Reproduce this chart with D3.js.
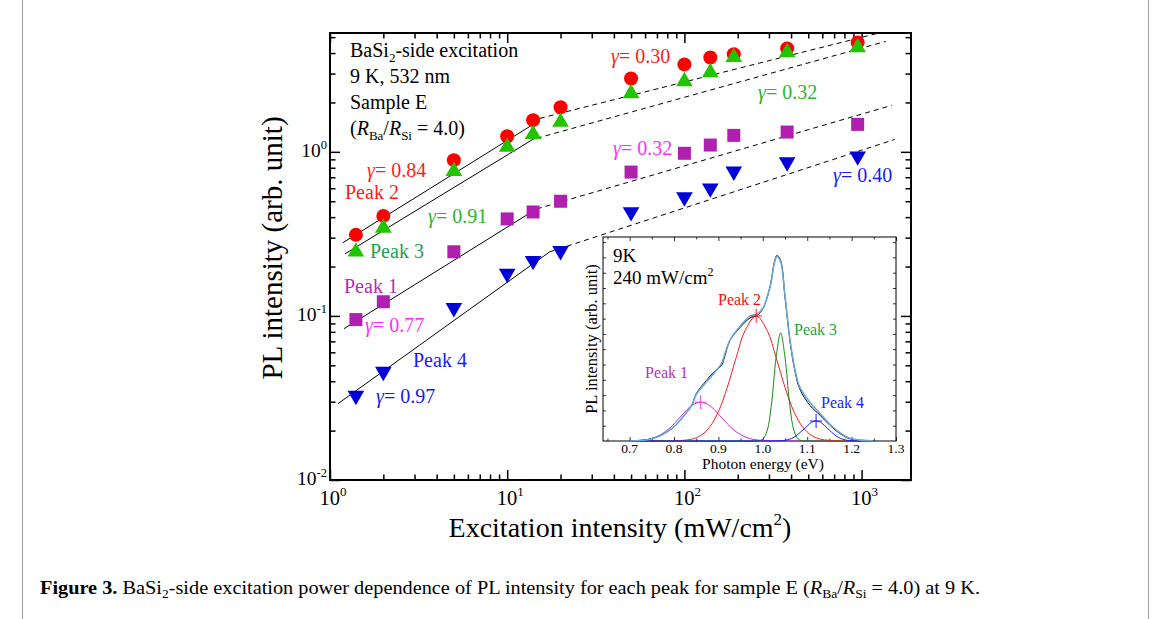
<!DOCTYPE html>
<html>
<head>
<meta charset="utf-8">
<script src="https://cdn.jsdelivr.net/npm/d3@7"></script>
<style>
body { margin: 0; background: #fff; }
svg { display: block; }
</style>
</head>
<body>
<svg id="fig" width="1170" height="619"></svg>
<script>
// excitation intensities (mW/cm2) and PL intensity of each peak (arb. unit)
var excitation = [1.4, 2, 5, 10, 14, 20, 50, 100, 140, 190, 380, 950];
var peak1 = [0.095, 0.122, 0.246, 0.39, 0.43, 0.50, 0.753, 0.98, 1.10, 1.26, 1.32, 1.47];
var peak2 = [0.312, 0.407, 0.89, 1.245, 1.56, 1.87, 2.80, 3.41, 3.76, 3.93, 4.27, 4.64];
var peak3 = [0.246, 0.344, 0.763, 1.07, 1.28, 1.52, 2.27, 2.69, 3.05, 3.77, 4.04, 4.33];
var peak4 = [0.0327, 0.0458, 0.112, 0.181, 0.217, 0.249, 0.43, 0.53, 0.60, 0.76, 0.865, 0.94];

// power-law fits: low intensity (solid) and high intensity (dashed), end points in data units
var fitSolid = [
	{peak: 2, x: [1.18, 15.3], y: [0.279, 1.56]},
	{peak: 3, x: [1.215, 14.3], y: [0.239, 1.21]},
	{peak: 1, x: [1.2, 14.3], y: [0.0836, 0.442]},
	{peak: 4, x: [1.11, 17.4], y: [0.0292, 0.246]}
];
var fitDashed = [
	{peak: 2, x: [15.3, 1210], y: [1.60, 5.25]},
	{peak: 3, x: [14.7, 1368], y: [1.21, 4.71]},
	{peak: 1, x: [14.7, 1479], y: [0.449, 1.92]},
	{peak: 4, x: [17.4, 1537], y: [0.246, 1.19]}
];

var xMajor = [1, 10, 100, 1000];
var yMajor = [0.01, 0.1, 1];

// inset: PL spectrum at 240 mW/cm2
var energy = [0.70, 0.74, 0.77, 0.80, 0.82, 0.84, 0.85, 0.873, 0.89, 0.907, 0.915, 0.926, 0.948, 0.971, 0.986, 1.00, 1.016, 1.027, 1.032, 1.04, 1.05, 1.061, 1.072, 1.083, 1.106, 1.129, 1.151, 1.174, 1.196, 1.226, 1.25];
var spectrum = [0, 0.007, 0.028, 0.069, 0.118, 0.175, 0.232, 0.297, 0.338, 0.371, 0.42, 0.493, 0.554, 0.603, 0.614, 0.648, 0.755, 0.886, 0.91, 0.886, 0.706, 0.493, 0.346, 0.256, 0.175, 0.126, 0.077, 0.036, 0.011, 0.003, 0];
var fitSum = [0, 0.006, 0.027, 0.07, 0.118, 0.176, 0.228, 0.29, 0.332, 0.38, 0.43, 0.495, 0.56, 0.612, 0.622, 0.65, 0.752, 0.88, 0.905, 0.88, 0.71, 0.5, 0.355, 0.265, 0.19, 0.135, 0.082, 0.04, 0.013, 0.003, 0];

var comp1E = [0.70, 0.74, 0.76, 0.78, 0.80, 0.82, 0.84, 0.86, 0.88, 0.90, 0.92, 0.94, 0.96, 0.98, 1.00, 1.02, 1.25];
var comp1 = [0.001, 0.007, 0.02, 0.045, 0.084, 0.132, 0.174, 0.19, 0.174, 0.132, 0.084, 0.045, 0.02, 0.007, 0.003, 0.001, 0];
var comp2E = [0.70, 0.80, 0.84, 0.86, 0.88, 0.90, 0.92, 0.94, 0.96, 0.985, 1.01, 1.03, 1.05, 1.07, 1.09, 1.11, 1.13, 1.17, 1.25];
var comp2 = [0, 0.001, 0.009, 0.027, 0.068, 0.144, 0.263, 0.409, 0.541, 0.613, 0.541, 0.409, 0.263, 0.144, 0.068, 0.027, 0.009, 0.001, 0];
var comp3E = [0.70, 0.98, 0.99, 1.00, 1.01, 1.02, 1.03, 1.04, 1.05, 1.06, 1.07, 1.08, 1.09, 1.10, 1.25];
var comp3 = [0, 0, 0.001, 0.009, 0.053, 0.19, 0.41, 0.53, 0.41, 0.19, 0.053, 0.009, 0.001, 0, 0];
var comp4E = [0.70, 1.00, 1.03, 1.05, 1.07, 1.09, 1.11, 1.12, 1.13, 1.15, 1.17, 1.19, 1.21, 1.25];
var comp4 = [0, 0, 0.0004, 0.0034, 0.018, 0.053, 0.092, 0.098, 0.092, 0.053, 0.018, 0.0034, 0.0004, 0];
var insetTicks = [0.7, 0.8, 0.9, 1.0, 1.1, 1.2, 1.3];

var serif = '"Liberation Serif", "Times New Roman", serif';
var colors = {1: '#b01fb0', 2: '#ff0000', 3: '#22c400', 4: '#0000d8'};

var svg = d3.select('#fig').style('font-family', serif);

// page frame
svg.append('rect')
	.attr('x', 22.5).attr('y', -2).attr('width', 1126).attr('height', 625)
	.attr('fill', 'none').attr('stroke', '#a0a0a0');

var plot = {left: 330, right: 911, top: 33, bottom: 480};
var x = d3.scaleLog().domain([1, 1900]).range([plot.left, plot.right]);
var y = d3.scaleLog().domain([0.01, 5.3]).range([plot.bottom, plot.top]);

var minor = function(decades, max) {
	var out = [];
	decades.forEach(function(d) {
		for (var k = 2; k < 10; k++) if (k * d < max) out.push(k * d);
	});
	return out;
};
var xMinor = minor(xMajor, 1900);
var yMinor = minor(yMajor, 5.3);

var axes = svg.append('g');
var addAxis = function(axis, tx, ty, size, values) {
	var g = axes.append('g')
		.attr('transform', 'translate(' + tx + ',' + ty + ')')
		.call(axis.tickValues(values).tickSize(size).tickFormat(''));
	g.select('.domain').remove();
	g.selectAll('line').attr('stroke', '#000').attr('stroke-width', 1.5);
};
addAxis(d3.axisBottom(x), 0, plot.bottom, -10, xMajor);
addAxis(d3.axisBottom(x), 0, plot.bottom, -5.5, xMinor);
addAxis(d3.axisTop(x), 0, plot.top, -10, xMajor);
addAxis(d3.axisTop(x), 0, plot.top, -5.5, xMinor);
addAxis(d3.axisLeft(y), plot.left, 0, -10, yMajor);
addAxis(d3.axisLeft(y), plot.left, 0, -5.5, yMinor);
addAxis(d3.axisRight(y), plot.right, 0, -10, yMajor);
addAxis(d3.axisRight(y), plot.right, 0, -5.5, yMinor);

svg.append('rect')
	.attr('x', plot.left).attr('y', plot.top)
	.attr('width', plot.right - plot.left).attr('height', plot.bottom - plot.top)
	.attr('fill', 'none').attr('stroke', '#000').attr('stroke-width', 2);

// tick labels 10^n
xMajor.forEach(function(v) {
	var t = svg.append('text').attr('x', x(v) - 10.5).attr('y', 505).style('font-size', '20.5px');
	t.append('tspan').text('10');
	t.append('tspan').attr('dy', -9).style('font-size', '13px').text(Math.round(Math.log10(v)));
});
yMajor.forEach(function(v) {
	var t = svg.append('text').attr('x', 327).attr('y', y(v) + 5).attr('text-anchor', 'end').style('font-size', '19.5px');
	t.append('tspan').text('10');
	t.append('tspan').attr('dy', -8).style('font-size', '12.5px').text(Math.round(Math.log10(v)));
});

// axis titles
svg.append('text')
	.attr('transform', 'translate(282,248) rotate(-90)')
	.attr('text-anchor', 'middle').style('font-size', '29px')
	.text('PL intensity (arb. unit)');
var xt = svg.append('text').attr('x', 620).attr('y', 537).attr('text-anchor', 'middle').style('font-size', '28px');
xt.append('tspan').text('Excitation intensity (mW/cm');
xt.append('tspan').attr('dy', -12).style('font-size', '17px').text('2');
xt.append('tspan').attr('dy', 12).text(')');

// fit lines
var lines = svg.append('g');
fitSolid.concat(fitDashed).forEach(function(f, i) {
	lines.append('line')
		.attr('x1', x(f.x[0])).attr('y1', y(f.y[0]))
		.attr('x2', x(f.x[1])).attr('y2', y(f.y[1]))
		.attr('stroke', '#000').attr('stroke-width', 1)
		.attr('stroke-dasharray', i < fitSolid.length ? null : '5,4');
});

// markers
var marks = svg.append('g');
marks.selectAll('circle.p2').data(peak2).enter().append('circle')
	.attr('cx', function(d, i) { return x(excitation[i]); })
	.attr('cy', function(d) { return y(d); })
	.attr('r', 7).attr('fill', colors[2]);
marks.selectAll('path.p3').data(peak3).enter().append('path')
	.attr('d', d3.symbol().type(d3.symbolTriangle).size(120))
	.attr('transform', function(d, i) { return 'translate(' + x(excitation[i]) + ',' + y(d) + ')'; })
	.attr('fill', colors[3]);
marks.selectAll('rect.p1').data(peak1).enter().append('rect')
	.attr('x', function(d, i) { return x(excitation[i]) - 6.5; })
	.attr('y', function(d) { return y(d) - 6.5; })
	.attr('width', 13).attr('height', 13).attr('fill', colors[1]);
marks.selectAll('path.p4').data(peak4).enter().append('path')
	.attr('d', d3.symbol().type(d3.symbolTriangle).size(120))
	.attr('transform', function(d, i) { return 'translate(' + x(excitation[i]) + ',' + y(d) + ') rotate(180)'; })
	.attr('fill', colors[4]);

// annotations
var label = function(px, py, str, color, size) {
	return svg.append('text').attr('x', px).attr('y', py).attr('fill', color).style('font-size', (size || 20) + 'px').text(str);
};
var gamma = function(px, py, val, color) {
	var t = svg.append('text').attr('x', px).attr('y', py).attr('fill', color).style('font-size', '20px');
	t.append('tspan').style('font-style', 'italic').text('\u03b3');
	t.append('tspan').text('= ' + val);
};
gamma(367, 177, '0.84', '#ff1a1a');
label(345, 199, 'Peak 2', '#ff1a1a');
gamma(428, 223, '0.91', '#2db52d');
label(370, 258, 'Peak 3', '#1fa050');
label(344, 293, 'Peak 1', '#b52db5');
gamma(365, 332, '0.77', '#ff2cff');
label(413, 367, 'Peak 4', '#1a1aff');
gamma(376, 403, '0.97', '#1a1ae6');
gamma(611, 63, '0.30', '#ff1a1a');
gamma(758, 99, '0.32', '#2db52d');
gamma(613, 155, '0.32', '#ff2cff');
gamma(833, 182, '0.40', '#1a1aff');

var info = svg.append('g').style('font-size', '20px');
var t1 = info.append('text').attr('x', 350).attr('y', 57);
t1.append('tspan').text('BaSi');
t1.append('tspan').attr('dy', 5).style('font-size', '13px').text('2');
t1.append('tspan').attr('dy', -5).text('-side excitation');
info.append('text').attr('x', 350).attr('y', 83).text('9 K, 532 nm');
info.append('text').attr('x', 350).attr('y', 109).text('Sample E');
var t4 = info.append('text').attr('x', 350).attr('y', 135);
t4.append('tspan').text('(');
t4.append('tspan').style('font-style', 'italic').text('R');
t4.append('tspan').attr('dy', 5).style('font-size', '13px').text('Ba');
t4.append('tspan').attr('dy', -5).text('/');
t4.append('tspan').style('font-style', 'italic').text('R');
t4.append('tspan').attr('dy', 5).style('font-size', '13px').text('Si');
t4.append('tspan').attr('dy', -5).text(' = 4.0)');

// inset spectrum
var inset = {left: 603, right: 896, top: 237, bottom: 441};
var ix = d3.scaleLinear().domain([0.64, 1.3]).range([inset.left, inset.right]);
var iy = d3.scaleLinear().domain([0, 1]).range([inset.bottom, inset.top]);

svg.append('rect')
	.attr('x', inset.left).attr('y', inset.top)
	.attr('width', inset.right - inset.left).attr('height', inset.bottom - inset.top)
	.attr('fill', '#fff').attr('stroke', '#000').attr('stroke-width', 1);

var ixMinor = d3.range(0.65, 1.3, 0.1);
var iyTicks = d3.range(0.075, 1, 0.075);
var addInsetAxis = function(axis, tx, ty, size, values) {
	var g = svg.append('g')
		.attr('transform', 'translate(' + tx + ',' + ty + ')')
		.call(axis.tickValues(values).tickSize(size).tickFormat(''));
	g.select('.domain').remove();
	g.selectAll('line').attr('stroke', '#000').attr('stroke-width', 0.8);
};
addInsetAxis(d3.axisBottom(ix), 0, inset.bottom, -4, insetTicks);
addInsetAxis(d3.axisBottom(ix), 0, inset.bottom, -2.5, ixMinor);
addInsetAxis(d3.axisTop(ix), 0, inset.top, -4, insetTicks);
addInsetAxis(d3.axisTop(ix), 0, inset.top, -2.5, ixMinor);
addInsetAxis(d3.axisLeft(iy), inset.left, 0, -3, iyTicks);
addInsetAxis(d3.axisRight(iy), inset.right, 0, -3, iyTicks);

insetTicks.forEach(function(v) {
	svg.append('text').attr('x', ix(v)).attr('y', 453).attr('text-anchor', 'middle')
		.style('font-size', '13.5px').text(d3.format('.1f')(v));
});
svg.append('text').attr('x', 763).attr('y', 469).attr('text-anchor', 'middle')
	.style('font-size', '15.5px').text('Photon energy (eV)');
svg.append('text').attr('transform', 'translate(597,339) rotate(-90)').attr('text-anchor', 'middle')
	.style('font-size', '16.5px').text('PL intensity (arb. unit)');

var curve = function(xs, ys, color, width) {
	var line = d3.line()
		.x(function(d, i) { return ix(xs[i]); })
		.y(function(d) { return iy(d); })
		.curve(d3.curveCatmullRom);
	svg.append('path').datum(ys)
		.attr('d', line).attr('fill', 'none')
		.attr('stroke', color).attr('stroke-width', width);
};
curve(comp1E, comp1, '#c22ec2', 1);
curve(comp2E, comp2, '#ff1a1a', 1);
curve(comp3E, comp3, '#118c11', 1);
curve(comp4E, comp4, '#1a1aff', 1);
curve(energy, spectrum, '#000', 1);
curve(energy, fitSum, '#6aa6d6', 1.6);

// peak position crosses
[[comp1E, comp1, '#e040e0'], [comp2E, comp2, '#ff1a1a'], [comp4E, comp4, '#1a1aff']].forEach(function(c) {
	var k = c[1].indexOf(d3.max(c[1]));
	var cx = ix(c[0][k]), cy = iy(c[1][k]);
	svg.append('path')
		.attr('d', 'M' + (cx - 6) + ',' + cy + 'H' + (cx + 6) + 'M' + cx + ',' + (cy - 7) + 'V' + (cy + 7))
		.attr('stroke', c[2]).attr('stroke-width', 1);
});

label(645, 378, 'Peak 1', '#b533b5', 16);
label(718, 305, 'Peak 2', '#ee1111', 16);
label(794, 335, 'Peak 3', '#22a844', 16);
label(821, 408, 'Peak 4', '#2222ff', 16);

label(613, 262, '9K', '#000', 19);
var t5 = svg.append('text').attr('x', 613).attr('y', 284).style('font-size', '19px');
t5.append('tspan').text('240 mW/cm');
t5.append('tspan').attr('dy', -8).style('font-size', '12px').text('2');

// caption
var cap = svg.append('text').attr('x', 40).attr('y', 594).style('font-size', '18px')
	.attr('textLength', 940).attr('lengthAdjust', 'spacingAndGlyphs');
cap.append('tspan').style('font-weight', 'bold').text('Figure 3. ');
cap.append('tspan').text('BaSi');
cap.append('tspan').attr('dy', 4).style('font-size', '12px').text('2');
cap.append('tspan').attr('dy', -4).text('-side excitation power dependence of PL intensity for each peak for sample E (');
cap.append('tspan').style('font-style', 'italic').text('R');
cap.append('tspan').attr('dy', 4).style('font-size', '12px').text('Ba');
cap.append('tspan').attr('dy', -4).text('/');
cap.append('tspan').style('font-style', 'italic').text('R');
cap.append('tspan').attr('dy', 4).style('font-size', '12px').text('Si');
cap.append('tspan').attr('dy', -4).text(' = 4.0) at 9 K.');
</script>
</body>
</html>
